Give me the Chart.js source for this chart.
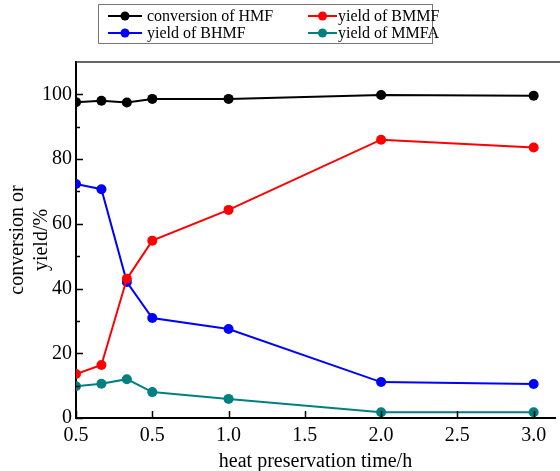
<!DOCTYPE html>
<html>
<head>
<meta charset="utf-8">
<script src="https://cdn.jsdelivr.net/npm/chart.js@4"></script>
<style>
  html, body { margin: 0; padding: 0; background: #fff; }
  #wrap { width: 560px; height: 471px; position: relative; }
</style>
</head>
<body>
<div id="wrap"><canvas id="grafico"></canvas></div>
<script>
// time in hours
const tiempos = [0, 1/6, 1/3, 0.5, 1.0, 2.0, 3.0]
const conversionHMF = [97.6, 98.0, 97.5, 98.6, 98.6, 99.8, 99.6]
const yieldBHMF = [72.3, 70.7, 42.0, 30.9, 27.5, 11.1, 10.5]
const yieldBMMF = [13.6, 16.4, 43.0, 54.8, 64.3, 86.0, 83.6]
const yieldMMFA = [9.8, 10.6, 12.0, 8.0, 5.9, 1.8, 1.8]
const xTickValues = [0, 0.5, 1.0, 1.5, 2.0, 2.5, 3.0]
const xTickLabels = ['0.5', '0.5', '1.0', '1.5', '2.0', '2.5', '3.0']
const yTickValues = [0, 20, 40, 60, 80, 100]
const yMinorValues = [10, 30, 50, 70, 90]

const fuente = "'Liberation Serif', 'DejaVu Serif', serif"

const serie = (label, valores, color) => ({
    label: label,
    data: tiempos.map((t, i) => ({ x: t, y: valores[i] })),
    borderColor: color,
    backgroundColor: color,
    borderWidth: 2,
    pointRadius: 5,
    pointHoverRadius: 5,
    pointBorderWidth: 0
})

const data = {
    datasets: [
        serie('conversion of HMF', conversionHMF, '#000000'),
        serie('yield of BMMF', yieldBMMF, '#ff0000'),
        serie('yield of BHMF', yieldBHMF, '#0000ff'),
        serie('yield of MMFA', yieldMMFA, '#008080')
    ]
}

// inward ticks, top frame line and the boxed legend
const extras = {
    id: 'extras',
    afterDraw(chart) {
        const ctx = chart.ctx
        const a = chart.chartArea
        const x = chart.scales.x
        const y = chart.scales.y
        ctx.save()
        ctx.strokeStyle = '#000'
        ctx.lineWidth = 1.5
        ctx.beginPath()
        xTickValues.forEach(v => {
            const px = Math.round(x.getPixelForValue(v)) + 0.5
            ctx.moveTo(px, a.bottom)
            ctx.lineTo(px, a.bottom - 7)
        })
        yTickValues.forEach(v => {
            const py = Math.round(y.getPixelForValue(v)) + 0.5
            ctx.moveTo(a.left, py)
            ctx.lineTo(a.left + 7, py)
        })
        yMinorValues.forEach(v => {
            const py = Math.round(y.getPixelForValue(v)) + 0.5
            ctx.moveTo(a.left, py)
            ctx.lineTo(a.left + 4, py)
        })
        ctx.stroke()

        ctx.strokeStyle = '#333'
        ctx.lineWidth = 1.5
        ctx.beginPath()
        ctx.moveTo(a.left, a.top)
        ctx.lineTo(chart.width, a.top)
        ctx.stroke()

        // legend
        ctx.strokeStyle = '#777'
        ctx.lineWidth = 1
        ctx.strokeRect(98.5, 4.5, 334, 39)
        const items = [
            { d: 0, lx: 108, ly: 16, tx: 147 },
            { d: 1, lx: 308, ly: 16, tx: 338 },
            { d: 2, lx: 108, ly: 33, tx: 147 },
            { d: 3, lx: 308, ly: 33, tx: 338 }
        ]
        ctx.font = '16px ' + fuente
        ctx.textBaseline = 'middle'
        ctx.textAlign = 'left'
        items.forEach(it => {
            const ds = chart.data.datasets[it.d]
            const largo = it.d % 2 === 0 ? 34 : 29
            ctx.strokeStyle = ds.borderColor
            ctx.fillStyle = ds.borderColor
            ctx.lineWidth = 2
            ctx.beginPath()
            ctx.moveTo(it.lx, it.ly)
            ctx.lineTo(it.lx + largo, it.ly)
            ctx.stroke()
            ctx.beginPath()
            ctx.arc(it.lx + largo / 2, it.ly, 4.5, 0, Math.PI * 2)
            ctx.fill()
            ctx.fillStyle = '#000'
            ctx.fillText(ds.label, it.tx, it.ly + 1)
        })
        ctx.restore()
    }
}

const config = {
    type: 'line',
    data: data,
    options: {
        responsive: true,
        maintainAspectRatio: false,
        animation: false,
        layout: { padding: { top: 62, right: 0, left: 0, bottom: 0 } },
        plugins: {
            legend: { display: false },
            tooltip: { enabled: false }
        },
        scales: {
            x: {
                type: 'linear',
                min: 0,
                max: 3.14,
                afterBuildTicks: s => { s.ticks = xTickValues.map(v => ({ value: v })) },
                afterFit: s => { s.height = 53 },
                ticks: {
                    autoSkip: false,
                    maxRotation: 0,
                    padding: 6,
                    color: '#000',
                    font: { family: fuente, size: 20 },
                    callback: (v, i) => xTickLabels[i]
                },
                grid: { display: true, drawOnChartArea: false, drawTicks: false },
                border: { color: '#000', width: 2 },
                title: {
                    display: true,
                    text: 'heat preservation time/h',
                    color: '#000',
                    font: { family: fuente, size: 20 },
                    padding: { top: 6, bottom: -3 }
                }
            },
            y: {
                min: 0,
                max: 110,
                afterBuildTicks: s => { s.ticks = yTickValues.map(v => ({ value: v })) },
                afterFit: s => { s.width = 76 },
                ticks: {
                    padding: 4,
                    color: '#000',
                    font: { family: fuente, size: 20 }
                },
                grid: { display: true, drawOnChartArea: false, drawTicks: false },
                border: { color: '#000', width: 2 },
                title: {
                    display: true,
                    text: ['conversion or', 'yield/%'],
                    color: '#000',
                    font: { family: fuente, size: 20, lineHeight: 1.2 },
                    padding: { top: 6, bottom: 0 }
                }
            }
        }
    },
    plugins: [extras]
}

let grafico = new Chart(document.querySelector('#grafico'), config)
</script>
</body>
</html>
